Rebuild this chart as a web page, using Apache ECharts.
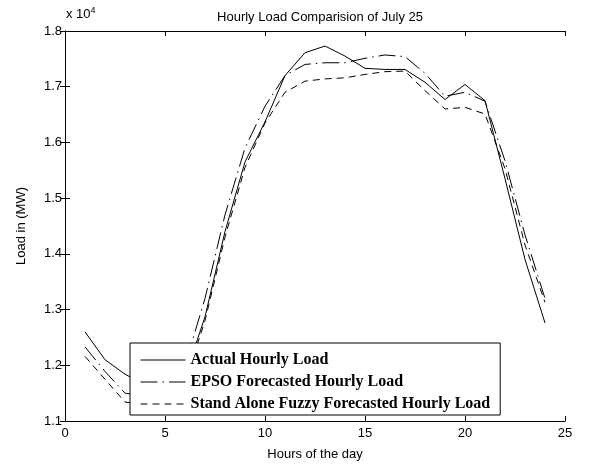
<!DOCTYPE html>
<html>
<head>
<meta charset="utf-8">
<script src="https://cdn.jsdelivr.net/npm/echarts@6/dist/echarts.min.js"></script>
<style>
html, body { margin: 0; padding: 0; background: #fff; }
#chart { width: 590px; height: 466px; }
</style>
</head>
<body>
<div id="chart"></div>
<script>
// hours of the day
var hours = [1, 2, 3, 4, 5, 6, 7, 8, 9, 10, 11, 12, 13, 14, 15, 16, 17, 18, 19, 20, 21, 22, 23, 24];
// load in MW
var actualLoad = [12600, 12100, 11840, 11650, 11550, 11800, 12870, 14400, 15650, 16370, 17200, 17610, 17730, 17550, 17330, 17310, 17310, 17080, 16770, 17040, 16750, 15350, 13900, 12760];
var epsoLoad = [12330, 11890, 11500, 11450, 11500, 12000, 13200, 14700, 15900, 16650, 17200, 17400, 17430, 17430, 17510, 17570, 17540, 17240, 16830, 16900, 16740, 15670, 14340, 13200];
var fuzzyLoad = [12160, 11750, 11340, 11300, 11350, 11700, 12800, 14300, 15550, 16350, 16900, 17100, 17140, 17160, 17220, 17270, 17280, 16930, 16600, 16630, 16510, 15530, 14160, 13130];
var seriesNames = ['Actual Hourly Load', 'EPSO Forecasted Hourly Load', 'Stand Alone Fuzzy Forecasted Hourly Load'];

var myChart = echarts.init(document.getElementById('chart'));

function pairs(vals) {
    var out = [];
    for (let i = 0; i < hours.length; i++) {
        out.push([hours[i], vals[i]]);
    }
    return out;
}

var labelFont = { color: '#000', fontFamily: 'Liberation Sans', fontSize: 13 };

var option = {
    animation: false,
    backgroundColor: '#fff',
    title: {
        text: 'Hourly Load Comparision of July 25',
        left: 315,
        top: 6,
        textAlign: 'center',
        textStyle: { color: '#000', fontFamily: 'Liberation Sans', fontSize: 13, fontWeight: 'normal' }
    },
    grid: { left: 65, right: 25, top: 31, bottom: 41 },
    xAxis: [
        {
            type: 'value', min: 0, max: 25, interval: 5,
            name: 'Hours of the day', nameLocation: 'middle', nameGap: 27,
            nameTextStyle: labelFont,
            axisLine: { lineStyle: { color: '#000', width: 1 } },
            axisTick: { inside: true, length: 5, lineStyle: { color: '#000' } },
            axisLabel: Object.assign({ margin: 6 }, labelFont),
            splitLine: { show: false }
        },
        {
            type: 'value', min: 0, max: 25, interval: 5, position: 'top',
            axisLine: { lineStyle: { color: '#000', width: 1 } },
            axisTick: { inside: true, length: 5, lineStyle: { color: '#000' } },
            axisLabel: { show: false },
            splitLine: { show: false }
        }
    ],
    yAxis: [
        {
            type: 'value', min: 11000, max: 18000, interval: 1000,
            name: 'Load in (MW)', nameLocation: 'middle', nameGap: 37,
            nameTextStyle: labelFont,
            axisLine: { show: true, lineStyle: { color: '#000', width: 1 } },
            axisTick: { show: true, inside: true, length: 5, lineStyle: { color: '#000' } },
            axisLabel: Object.assign({ margin: 3, formatter: function (v) { return (v / 10000).toFixed(1); } }, labelFont),
            splitLine: { show: false }
        },
        {
            type: 'value', min: 11000, max: 18000, interval: 1000, position: 'right',
            axisLine: { show: true, lineStyle: { color: '#000', width: 1 } },
            axisTick: { show: true, inside: true, length: 5, lineStyle: { color: '#000' } },
            axisLabel: { show: false },
            splitLine: { show: false }
        }
    ],
    legend: {
        orient: 'vertical',
        left: 130,
        top: 343,
        backgroundColor: '#fff',
        borderColor: '#000',
        borderWidth: 1,
        padding: [9, 10, 3, 10],
        itemWidth: 45,
        itemHeight: 10,
        itemGap: 6,
        itemStyle: { opacity: 0 },
        lineStyle: { width: 1 },
        textStyle: { color: '#000', fontFamily: 'Liberation Serif', fontSize: 16, fontWeight: 'bold' },
        data: seriesNames
    },
    graphic: [
        {
            type: 'text', left: 66, top: 6,
            style: {
                text: 'x 10{s|4}',
                rich: { s: { fontSize: 9, verticalAlign: 'top', padding: [0, 0, 8, 0], fontFamily: 'Liberation Sans' } },
                fill: '#000', fontFamily: 'Liberation Sans', fontSize: 13
            }
        }
    ],
    series: [
        {
            name: seriesNames[0], type: 'line', data: pairs(actualLoad),
            showSymbol: false, symbol: 'none',
            lineStyle: { color: '#000', width: 1, type: 'solid' },
            itemStyle: { color: '#000' }
        },
        {
            name: seriesNames[1], type: 'line', data: pairs(epsoLoad),
            showSymbol: false, symbol: 'none',
            lineStyle: { color: '#000', width: 1, type: [17, 5, 1.5, 5] },
            itemStyle: { color: '#000' }
        },
        {
            name: seriesNames[2], type: 'line', data: pairs(fuzzyLoad),
            showSymbol: false, symbol: 'none',
            lineStyle: { color: '#000', width: 1, type: [7, 5] },
            itemStyle: { color: '#000' }
        }
    ]
};

myChart.setOption(option);
</script>
</body>
</html>
